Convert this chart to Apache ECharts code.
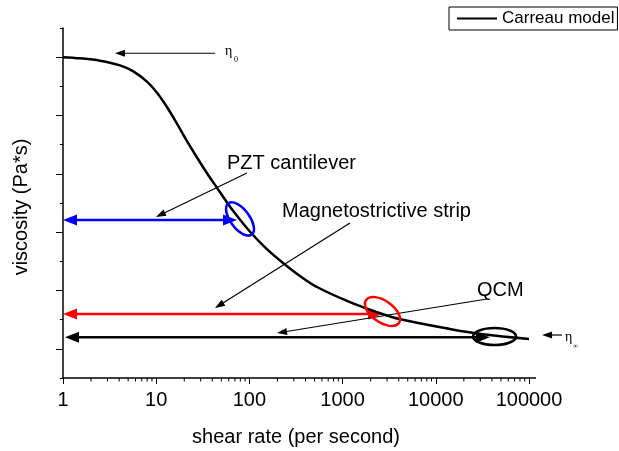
<!DOCTYPE html>
<html><head><meta charset="utf-8">
<script src="https://cdn.jsdelivr.net/npm/echarts@6/dist/echarts.min.js"></script>
<style>html,body{margin:0;padding:0;background:#fff}#c{width:619px;height:451px}</style>
</head><body><div id="c"></div>
<script>
// ---- data ----
const shearRate = [1, 1.52, 2.49, 4.09, 5.63, 7.96, 10.1, 13.0, 16.7, 21.4, 27.4, 35.1, 44.9, 57.5, 73.6, 100, 154, 252, 348, 531, 1200, 2330, 4090, 14100, 32100, 100000];
const viscosity = [5.50, 5.48, 5.44, 5.36, 5.26, 5.08, 4.90, 4.65, 4.36, 4.06, 3.78, 3.51, 3.26, 3.01, 2.78, 2.52, 2.21, 1.92, 1.75, 1.56, 1.30, 1.13, 1.01, 0.84, 0.75, 0.67];
const xTickLabels = ['1', '10', '100', '1000', '10000', '100000'];
const seriesName = 'Carreau model';

// pointer arrows (shear rate, viscosity): start -> tip
const pointerFrom = [[42.8, 5.567], [94.2, 3.514], [1200, 2.657], [35400, 1.354], [226000, 0.737]];
const pointerTo   = [[3.61, 5.567], [9.95, 2.76], [42.8, 1.2], [198, 0.771], [138000, 0.737]];
// measurement ranges (double arrows): PZT, magnetostrictive, QCM
const rangeLevel = [2.709, 1.097, 0.697];
const rangeFrom = [1, 1, 1.05];
const rangeTo = [73.6, 2650, 38000];
// circled operating points
const circleRate = [79.3, 2680, 42700];
const circleVisc = [2.726, 1.14, 0.711];

// ---- styles ----
const rangeColors = ['#0000ff', '#ff0000', '#000000'];
const ellipseShape = [[9.5, 19.5, 37], [20, 10.8, -35], [21.5, 8.5, 0]];
const SANS = 'Liberation Sans, Arial, sans-serif';
const SERIF = 'Liberation Serif, Times New Roman, serif';

function arrowGroup(p1, p2, o) {
  const dx = p2[0] - p1[0], dy = p2[1] - p1[1];
  const L = Math.hypot(dx, dy) || 1, ux = dx / L, uy = dy / L, nx = -uy, ny = ux;
  const a = o.start ? [p1[0] + ux * o.hl * 0.8, p1[1] + uy * o.hl * 0.8] : p1;
  const b = o.end ? [p2[0] - ux * o.hl * 0.8, p2[1] - uy * o.hl * 0.8] : p2;
  const children = [{ type: 'line', shape: { x1: a[0], y1: a[1], x2: b[0], y2: b[1] }, style: { stroke: o.color, lineWidth: o.lw } }];
  const head = (t, sx, sy) => ({ type: 'polygon', shape: { points: [
    [t[0], t[1]],
    [t[0] - sx * o.hl + nx * o.hw / 2, t[1] - sy * o.hl + ny * o.hw / 2],
    [t[0] - sx * o.hl - nx * o.hw / 2, t[1] - sy * o.hl - ny * o.hw / 2]] }, style: { fill: o.color } });
  if (o.end) children.push(head(p2, ux, uy));
  if (o.start) children.push(head(p1, -ux, -uy));
  return { type: 'group', children };
}

const minorTicks = [];
for (let d = 1; d <= 10000; d *= 10) for (let m = 2; m <= 9; m++) minorTicks.push([m * d, 0]);

const chart = echarts.init(document.getElementById('c'), null, { renderer: 'canvas' });
chart.setOption({
  animation: false,
  backgroundColor: '#fff',
  textStyle: { fontFamily: SANS },
  grid: { left: 63, right: 90, top: 28, bottom: 73, containLabel: false, outerBoundsMode: 'none' },
  legend: {
    data: [seriesName], left: 449, top: 7, padding: [3, 3, 3, 8],
    borderColor: '#000', borderWidth: 1, borderRadius: 0,
    itemWidth: 40, itemHeight: 14, icon: 'path://M0,6 L40,6 L40,8 L0,8 Z',
    textStyle: { fontSize: 17, color: '#000', fontFamily: SANS }
  },
  xAxis: {
    type: 'log', logBase: 10, min: 1, max: 100000, splitNumber: 5,
    name: 'shear rate (per second)', nameLocation: 'middle', nameGap: 49,
    nameTextStyle: { fontSize: 20, color: '#000', fontFamily: SANS },
    axisLine: { lineStyle: { color: '#000', width: 1.5 }, symbol: ['none', 'rect'], symbolSize: [1.5, 7], symbolOffset: [0, 3.5] },
    axisTick: { length: 6, lineStyle: { color: '#000', width: 1 } },
    axisLabel: { fontSize: 20, color: '#000', margin: 12, fontFamily: SANS,
      formatter: v => xTickLabels[Math.round(Math.log10(v))] },
    splitLine: { show: false }
  },
  yAxis: {
    type: 'value', min: 0, max: 6, interval: 1,
    name: 'viscosity (Pa*s)', nameLocation: 'middle', nameGap: 32,
    nameTextStyle: { fontSize: 20, color: '#000', fontFamily: SANS, padding: [0, 8, 0, 0] },
    axisLine: { show: true, lineStyle: { color: '#000', width: 1.5 } },
    axisTick: { show: true, length: 3, lineStyle: { color: '#000', width: 1 } },
    minorTick: { show: true, splitNumber: 2, length: 7, lineStyle: { color: '#000', width: 1 } },
    axisLabel: { show: false },
    splitLine: { show: false }, minorSplitLine: { show: false }
  },
  series: [
    {
      type: 'custom', name: 'minor', silent: true, clip: false, z: 3,
      data: minorTicks, encode: { x: 0, y: 1 },
      renderItem: (params, api) => {
        const p = api.coord([api.value(0), 0]);
        return { type: 'line', shape: { x1: p[0], y1: p[1], x2: p[0], y2: p[1] + 3.5 }, style: { stroke: '#000', lineWidth: 1 } };
      }
    },
    {
      type: 'custom', name: 'ranges', silent: true, clip: false, z: 4,
      data: rangeLevel.map((y, i) => [rangeFrom[i], y, rangeTo[i], y, i]), encode: { x: [0, 2], y: [1, 3] },
      renderItem: (params, api) => {
        const i = api.value(4);
        return arrowGroup(api.coord([api.value(0), api.value(1)]), api.coord([api.value(2), api.value(3)]),
          { color: rangeColors[i], lw: 2.5, hl: 14, hw: 11, start: true, end: true });
      }
    },
    {
      type: 'custom', name: 'pointers', silent: true, clip: false, z: 4,
      data: pointerFrom.map((f, i) => [f[0], f[1], pointerTo[i][0], pointerTo[i][1]]), encode: { x: [0, 2], y: [1, 3] },
      renderItem: (params, api) => arrowGroup(api.coord([api.value(0), api.value(1)]), api.coord([api.value(2), api.value(3)]),
        { color: '#000', lw: 1.2, hl: 10, hw: 7, start: false, end: true })
    },
    {
      type: 'custom', name: 'circles', silent: true, clip: false, z: 6,
      data: circleRate.map((r, i) => [r, circleVisc[i], i]), encode: { x: 0, y: 1 },
      renderItem: (params, api) => {
        const i = api.value(2), p = api.coord([api.value(0), api.value(1)]), s = ellipseShape[i];
        return { type: 'ellipse', x: p[0], y: p[1], rotation: s[2] * Math.PI / 180,
          shape: { cx: 0, cy: 0, rx: s[0], ry: s[1] }, style: { fill: 'none', stroke: rangeColors[i], lineWidth: 2.5 } };
      }
    },
    {
      type: 'line', name: seriesName, z: 5, smooth: 0.35, symbol: 'none', showSymbol: false,
      data: shearRate.map((x, i) => [x, viscosity[i]]),
      lineStyle: { color: '#000', width: 2.5 }, itemStyle: { color: '#000' }
    }
  ],
  graphic: [
    { type: 'text', x: 227, y: 163, style: { text: 'PZT cantilever', font: '20px ' + SANS, fill: '#000', verticalAlign: 'middle' } },
    { type: 'text', x: 282, y: 211, style: { text: 'Magnetostrictive strip', font: '20px ' + SANS, fill: '#000', verticalAlign: 'middle' } },
    { type: 'text', x: 477, y: 290, style: { text: 'QCM', font: '20px ' + SANS, fill: '#000', verticalAlign: 'middle' } },
    { type: 'text', x: 225, y: 51, style: { text: 'η', font: '14px ' + SERIF, fill: '#000', verticalAlign: 'middle' } },
    { type: 'text', x: 234, y: 59.5, style: { text: '0', font: '8px ' + SERIF, fill: '#000', verticalAlign: 'middle' } },
    { type: 'text', x: 565, y: 337, style: { text: 'η', font: '14px ' + SERIF, fill: '#000', verticalAlign: 'middle' } },
    { type: 'text', x: 573, y: 346, style: { text: '∞', font: '7px ' + SERIF, fill: '#000', verticalAlign: 'middle' } }
  ]
});
</script></body></html>
